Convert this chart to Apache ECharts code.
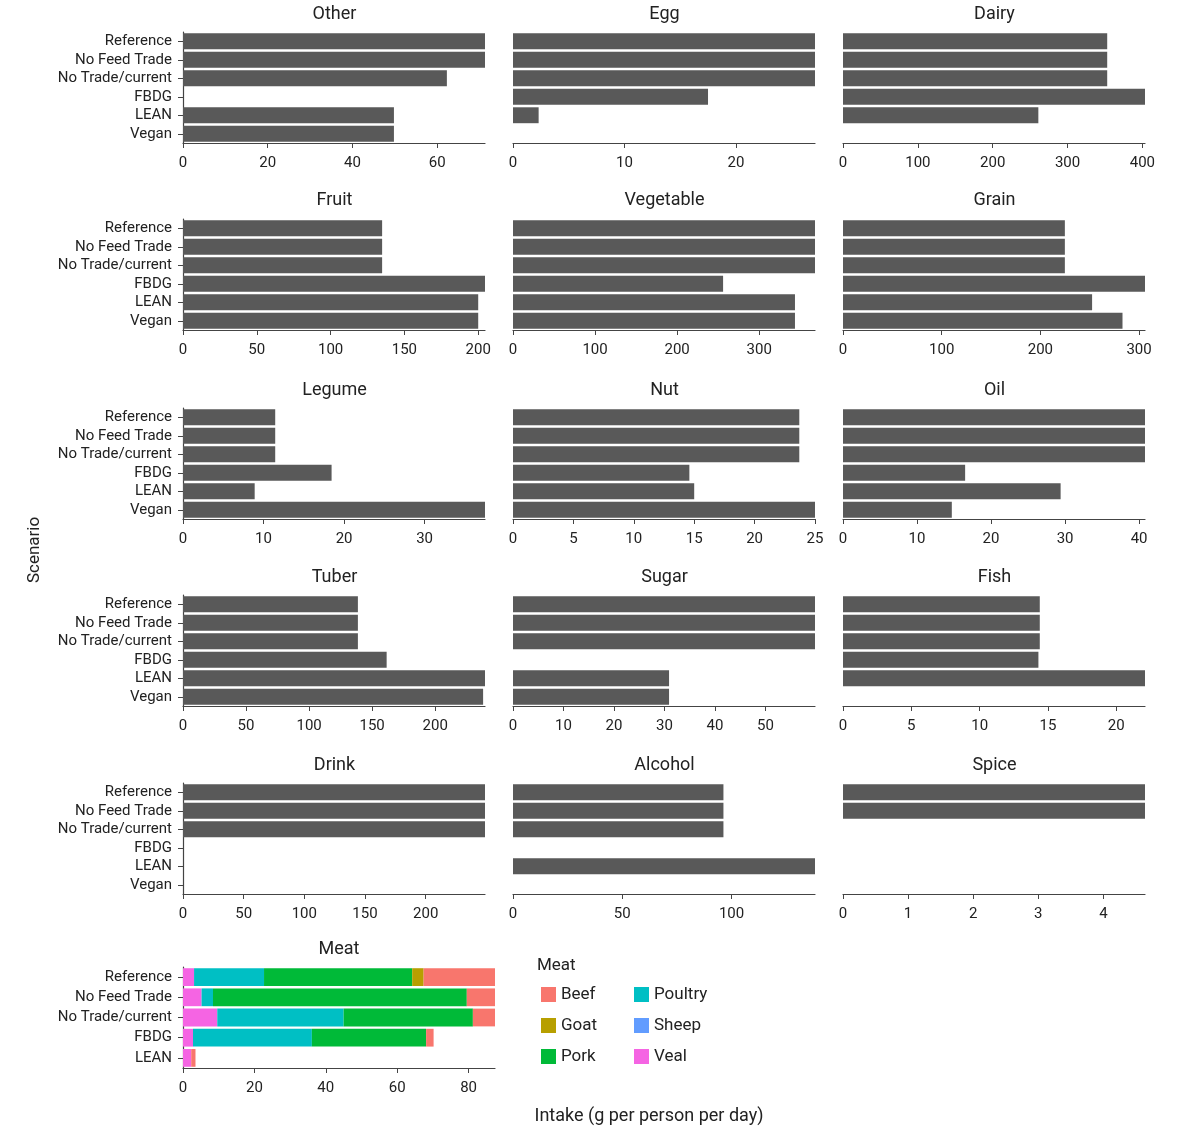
<!DOCTYPE html>
<html>
<head>
<meta charset="utf-8">
<script src="https://cdn.jsdelivr.net/npm/echarts@6/dist/echarts.min.js"></script>
<style>
  html, body { margin: 0; padding: 0; background: #fff; }
  #chart { width: 1200px; height: 1139px; }
</style>
</head>
<body>
<div id="chart"></div>
<script>
// scenarios, top to bottom
const scenarios = ['Reference', 'No Feed Trade', 'No Trade/current', 'FBDG', 'LEAN', 'Vegan'];

// intake per food group (g per person per day), same order as scenarios
const other = [71.3, 71.3, 62.3, 0, 49.8, 49.8];
const egg = [27.1, 27.1, 27.1, 17.5, 2.3, 0];
const dairy = [353, 353, 353, 403.5, 261, 0];
const fruit = [134.9, 134.9, 134.9, 204.6, 200, 200];
const vegetable = [368, 368, 368, 256, 343.6, 343.6];
const grain = [224.8, 224.8, 224.8, 306, 252.4, 283.2];
const legume = [11.45, 11.45, 11.45, 18.45, 8.9, 37.5];
const nut = [23.7, 23.7, 23.7, 14.6, 15.0, 25.0];
const oil = [40.8, 40.8, 40.8, 16.5, 29.4, 14.7];
const tuber = [138.7, 138.7, 138.7, 161.5, 239.5, 238];
const sugar = [59.8, 59.8, 59.8, 0, 30.9, 30.9];
const fish = [14.4, 14.4, 14.4, 14.3, 22.1, 0];
const drink = [248.9, 248.9, 248.9, 0, 0, 0];
const alcohol = [96.3, 96.3, 96.3, 0, 138.2, 0];
const spice = [4.64, 4.64, 0, 0, 0, 0];

// tick labels per panel
const otherTicks = [0, 20, 40, 60];
const eggTicks = [0, 10, 20];
const dairyTicks = [0, 100, 200, 300, 400];
const fruitTicks = [0, 50, 100, 150, 200];
const vegetableTicks = [0, 100, 200, 300];
const grainTicks = [0, 100, 200, 300];
const legumeTicks = [0, 10, 20, 30];
const nutTicks = [0, 5, 10, 15, 20, 25];
const oilTicks = [0, 10, 20, 30, 40];
const tuberTicks = [0, 50, 100, 150, 200];
const sugarTicks = [0, 10, 20, 30, 40, 50];
const fishTicks = [0, 5, 10, 15, 20];
const drinkTicks = [0, 50, 100, 150, 200];
const alcoholTicks = [0, 50, 100];
const spiceTicks = [0, 1, 2, 3, 4];

// meat panel (no Vegan row)
const meatScenarios = ['Reference', 'No Feed Trade', 'No Trade/current', 'FBDG', 'LEAN'];
const beef = [20.0, 7.9, 6.2, 2.1, 1.2];
const goat = [3.2, 0, 0, 0, 0];
const pork = [41.5, 71.1, 36.2, 32.0, 0];
const poultry = [19.6, 3.2, 35.4, 33.3, 0];
const sheep = [0, 0, 0, 0, 0];
const veal = [3.1, 5.2, 9.6, 2.8, 2.3];
const meatTicks = [0, 20, 40, 60, 80];

const panels = [
  ['Other', other, otherTicks], ['Egg', egg, eggTicks], ['Dairy', dairy, dairyTicks],
  ['Fruit', fruit, fruitTicks], ['Vegetable', vegetable, vegetableTicks], ['Grain', grain, grainTicks],
  ['Legume', legume, legumeTicks], ['Nut', nut, nutTicks], ['Oil', oil, oilTicks],
  ['Tuber', tuber, tuberTicks], ['Sugar', sugar, sugarTicks], ['Fish', fish, fishTicks],
  ['Drink', drink, drinkTicks], ['Alcohol', alcohol, alcoholTicks], ['Spice', spice, spiceTicks],
];

const FONT = 'Roboto, "Noto Sans", sans-serif';
const TEXT = '#222';
const AXIS = '#444';
const BAR = '#595959';

const colLeft = [183, 513, 843];
const rowTop = [32, 219, 408, 595, 783];
const titleY = [14, 200, 390, 577, 765];
const panelW = 302;
const panelH = 111;

const grids = [];
const xAxes = [];
const yAxes = [];
const graphics = [];
const series = [];

function xAxisFor(i, max, ticks) {
  return {
    type: 'value',
    gridIndex: i,
    min: 0,
    max: max,
    axisLine: { show: true, lineStyle: { color: AXIS, width: 1.2 } },
    axisTick: { show: true, length: 5, customValues: ticks, lineStyle: { color: AXIS } },
    axisLabel: { customValues: ticks, fontSize: 15, color: TEXT, fontFamily: FONT, margin: 13 },
    splitLine: { show: false },
  };
}

function yAxisFor(i, cats, showLabels) {
  return {
    type: 'category',
    gridIndex: i,
    data: cats,
    inverse: true,
    show: showLabels,
    axisLine: { show: true, lineStyle: { color: AXIS, width: 1.2 } },
    axisTick: { show: true, length: 5, interval: 0, alignWithLabel: true, lineStyle: { color: AXIS } },
    axisLabel: { interval: 0, fontSize: 15, color: TEXT, fontFamily: FONT, margin: 11 },
  };
}

function titleText(text, x, y) {
  return {
    type: 'text',
    x: x,
    y: y,
    silent: true,
    style: { text: text, fontSize: 18, fill: TEXT, fontFamily: FONT, align: 'center', verticalAlign: 'middle' },
  };
}

panels.forEach(([name, values, ticks], i) => {
  const col = i % 3;
  const row = Math.floor(i / 3);
  const left = colLeft[col];
  const top = rowTop[row];
  grids.push({ left: left, top: top, width: panelW, height: panelH });
  xAxes.push(xAxisFor(i, Math.max(...values), ticks));
  yAxes.push(yAxisFor(i, scenarios, col === 0));
  graphics.push(titleText(name, left + 151.5, titleY[row]));
  series.push({
    type: 'bar',
    xAxisIndex: i,
    yAxisIndex: i,
    data: values,
    barCategoryGap: '14%',
    itemStyle: { color: BAR },
    silent: true,
  });
});

// meat panel
const meatIdx = panels.length;
const meatLeft = 183;
const meatTop = 967;
const meatW = 312;
const meatH = 101;
const meatTotals = meatScenarios.map((_, k) => beef[k] + goat[k] + pork[k] + poultry[k] + sheep[k] + veal[k]);
grids.push({ left: meatLeft, top: meatTop, width: meatW, height: meatH });
xAxes.push(xAxisFor(meatIdx, Math.max(...meatTotals), meatTicks));
yAxes.push(yAxisFor(meatIdx, meatScenarios, true));
graphics.push(titleText('Meat', meatLeft + 156, 949));

// stacked left to right: Veal, Sheep, Poultry, Pork, Goat, Beef
const meatSeries = [
  ['Veal', veal, '#F564E3'],
  ['Sheep', sheep, '#619CFF'],
  ['Poultry', poultry, '#00BFC4'],
  ['Pork', pork, '#00BA38'],
  ['Goat', goat, '#B79F00'],
  ['Beef', beef, '#F8766D'],
];
meatSeries.forEach(([name, values, color]) => {
  series.push({
    name: name,
    type: 'bar',
    stack: 'meat',
    xAxisIndex: meatIdx,
    yAxisIndex: meatIdx,
    data: values,
    barCategoryGap: '12%',
    itemStyle: { color: color },
    silent: true,
  });
});

const legendBase = {
  orient: 'vertical',
  top: 981,
  itemWidth: 15,
  itemHeight: 15,
  itemGap: 14,
  icon: 'rect',
  selectedMode: false,
  textStyle: { fontSize: 17, color: TEXT, fontFamily: FONT, lineHeight: 17 },
};

graphics.push(
  {
    type: 'text',
    x: 537,
    y: 966,
    silent: true,
    style: { text: 'Meat', fontSize: 17, fill: TEXT, fontFamily: FONT, verticalAlign: 'middle' },
  },
  {
    type: 'text',
    x: 649,
    y: 1116,
    silent: true,
    style: { text: 'Intake (g per person per day)', fontSize: 18, fill: TEXT, fontFamily: FONT, align: 'center', verticalAlign: 'middle' },
  },
  {
    type: 'text',
    x: 35,
    y: 550,
    rotation: Math.PI / 2,
    silent: true,
    style: { text: 'Scenario', fontSize: 17, fill: TEXT, fontFamily: FONT, align: 'center', verticalAlign: 'middle' },
  }
);

const chart = echarts.init(document.getElementById('chart'), null, { renderer: 'canvas' });
chart.setOption({
  backgroundColor: '#fff',
  animation: false,
  grid: grids,
  xAxis: xAxes,
  yAxis: yAxes,
  series: series,
  legend: [
    Object.assign({}, legendBase, { left: 536, data: ['Beef', 'Goat', 'Pork'] }),
    Object.assign({}, legendBase, { left: 629, data: ['Poultry', 'Sheep', 'Veal'] }),
  ],
  graphic: graphics,
});
</script>
</body>
</html>
